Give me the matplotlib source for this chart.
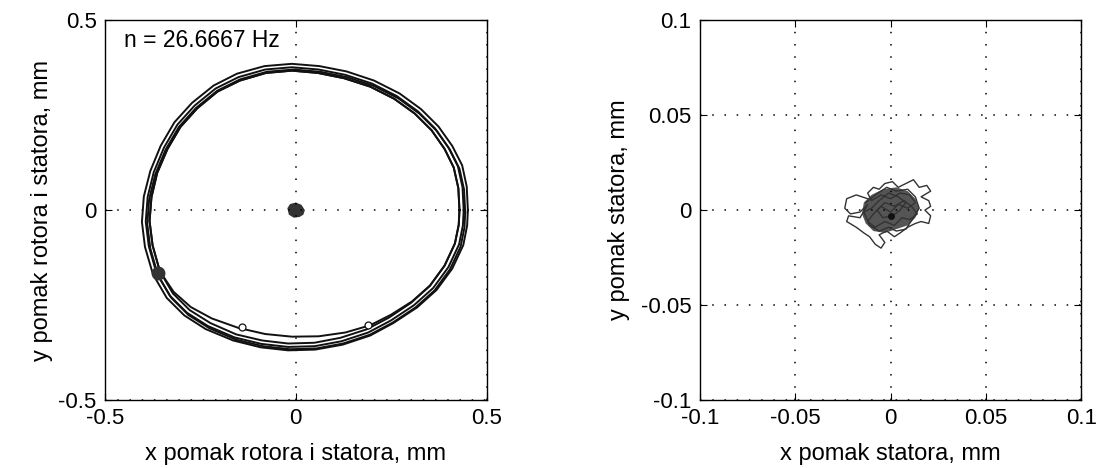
import matplotlib
matplotlib.use("Agg")
import matplotlib.pyplot as plt

plt.rcParams['font.family'] = ['Liberation Sans', 'DejaVu Sans']

# rotor + stator orbit, mm (several revolutions)
orbit_x = [
    [0.44, 0.437, 0.425, 0.40, 0.365, 0.32, 0.265, 0.20, 0.13, 0.06, -0.01, -0.08, -0.15, -0.21, -0.265, -0.31, -0.345, -0.372, -0.388,
     -0.393, -0.385, -0.365, -0.33, -0.285, -0.23, -0.16, -0.09, -0.02, 0.05, 0.12, 0.19, 0.25, 0.31, 0.36, 0.40, 0.428, 0.438, 0.44],
    [0.451, 0.448, 0.436, 0.41, 0.374, 0.328, 0.272, 0.205, 0.133, 0.062, -0.01, -0.082, -0.154, -0.215, -0.272, -0.318, -0.354, -0.381, -0.398,
     -0.403, -0.395, -0.374, -0.338, -0.292, -0.236, -0.164, -0.092, -0.02, 0.051, 0.123, 0.195, 0.256, 0.318, 0.369, 0.41, 0.439, 0.449, 0.451],
    [0.429, 0.426, 0.414, 0.39, 0.356, 0.312, 0.258, 0.195, 0.127, 0.058, -0.01, -0.078, -0.146, -0.205, -0.258, -0.302, -0.336, -0.363, -0.378,
     -0.383, -0.375, -0.356, -0.322, -0.278, -0.224, -0.156, -0.088, -0.02, 0.049, 0.117, 0.185, 0.244, 0.302, 0.351, 0.39, 0.417, 0.427, 0.429],
    [0.444, 0.441, 0.429, 0.404, 0.369, 0.324, 0.269, 0.204, 0.134, 0.064, -0.006, -0.076, -0.146, -0.206, -0.261, -0.306, -0.341, -0.368, -0.384,
     -0.389, -0.381, -0.361, -0.326, -0.281, -0.226, -0.156, -0.086, -0.016, 0.054, 0.124, 0.194, 0.254, 0.314, 0.364, 0.404, 0.432, 0.442, 0.444],
    [0.429, 0.426, 0.414, 0.39, 0.356, 0.312, 0.258, 0.195, 0.127, 0.058, -0.01, -0.078, -0.146, -0.205, -0.258, -0.302, -0.336, -0.363, -0.378,
     -0.383, -0.375, -0.356, -0.32, -0.275, -0.22, -0.15, -0.08, -0.01, 0.06, 0.13, 0.195, 0.25, 0.305, 0.352, 0.39, 0.417, 0.427, 0.429],
]
orbit_y = [
    [0.0, 0.06, 0.115, 0.165, 0.215, 0.26, 0.30, 0.333, 0.356, 0.37, 0.376, 0.37, 0.35, 0.32, 0.275, 0.225, 0.165, 0.10, 0.035,
     -0.03, -0.095, -0.165, -0.225, -0.27, -0.305, -0.335, -0.352, -0.36, -0.358, -0.345, -0.322, -0.29, -0.25, -0.205, -0.15, -0.09, -0.04, 0.0],
    [0.0, 0.062, 0.118, 0.169, 0.22, 0.266, 0.307, 0.341, 0.365, 0.379, 0.385, 0.379, 0.359, 0.328, 0.282, 0.231, 0.169, 0.103, 0.036,
     -0.031, -0.097, -0.169, -0.231, -0.277, -0.313, -0.343, -0.361, -0.369, -0.367, -0.354, -0.33, -0.297, -0.256, -0.21, -0.154, -0.092, -0.041, 0.0],
    [0.0, 0.058, 0.112, 0.161, 0.21, 0.254, 0.293, 0.325, 0.347, 0.361, 0.367, 0.361, 0.341, 0.312, 0.268, 0.219, 0.161, 0.098, 0.034,
     -0.029, -0.093, -0.161, -0.219, -0.263, -0.297, -0.327, -0.343, -0.351, -0.349, -0.336, -0.314, -0.283, -0.244, -0.2, -0.146, -0.088, -0.039, 0.0],
    [-0.006, 0.054, 0.109, 0.159, 0.209, 0.254, 0.294, 0.327, 0.35, 0.364, 0.37, 0.364, 0.344, 0.314, 0.269, 0.219, 0.159, 0.094, 0.029,
     -0.036, -0.101, -0.171, -0.231, -0.276, -0.311, -0.341, -0.358, -0.366, -0.364, -0.351, -0.328, -0.296, -0.256, -0.211, -0.156, -0.096, -0.046, -0.006],
    [0.0, 0.058, 0.112, 0.161, 0.21, 0.254, 0.293, 0.325, 0.347, 0.361, 0.367, 0.361, 0.341, 0.312, 0.268, 0.219, 0.161, 0.098, 0.034,
     -0.029, -0.093, -0.161, -0.215, -0.255, -0.285, -0.31, -0.326, -0.333, -0.332, -0.322, -0.303, -0.275, -0.24, -0.198, -0.146, -0.088, -0.039, 0.0],
]
# small blob in the middle of the left plot, mm
blob_x = [-0.022, -0.015, 0.0, 0.015, 0.024, 0.02, 0.01, -0.005, -0.018, -0.022]
blob_y = [0.005, 0.016, 0.02, 0.014, 0.0, -0.012, -0.018, -0.02, -0.012, 0.005]
mark_x = [-0.362]
mark_y = [-0.165]
kink_x = [-0.14, 0.19]
kink_y = [-0.308, -0.302]

# stator orbit, micrometres
stator_x_um = [-12, -18, -23, -24, -21, -16, -12, -16, -22, -23, -18, -14, -11, -8, -5, -3, -6, -2, 2, 5, 9, 13, 16, 20, 21, 18,
               21, 20, 16, 21, 19, 15, 12, 8, 4, 1, -3, -6, -9, -12, -10, -5, 0, 5, 10, 13, 9, 4, 0, -5, -9, -12, -8, -3, 2,
               6, 10, 14, 11, 7, 2, -3, -7, -4, 1, 5, 8, 4, -1, -6, -10, -14, -11, -6, -1, 3, 8, 12, 15, 13, 9, 3, -2, -8, -13]
stator_y_um = [6, 8, 6, 1, -2, -1, 3, -4, -3, -6, -9, -12, -14, -18, -20, -17, -13, -11, -14, -12, -9, -7, -6, -7, -3, 0,
               2, 5, 7, 10, 13, 12, 16, 14, 12, 15, 14, 11, 12, 9, 5, 8, 6, 9, 8, 4, 1, 3, -1, 2, -2, -6, -9, -6, -8,
               -4, -5, -2, 2, 5, 2, 4, 0, -4, -3, 0, 4, 7, 9, 5, 1, -1, -8, -11, -9, -11, -10, -4, 1, 7, 11, 10, 12, 8, 4]
core_x_um = [-14, -10, -4, 3, 9, 13, 15, 13, 9, 3, -3, -9, -13, -15, -14]
core_y_um = [4, 8, 11, 12, 10, 6, 1, -4, -8, -10, -12, -11, -7, -2, 4]

fig = plt.figure(figsize=(11.16, 4.68), dpi=100)
ax1 = fig.add_axes([0.094, 0.145, 0.342, 0.812])
ax2 = fig.add_axes([0.627, 0.145, 0.342, 0.812])

for xs, ys in zip(orbit_x, orbit_y):
    ax1.plot(xs, ys, color='#111111', lw=1.4)
ax1.fill(blob_x, blob_y, color='#333333', lw=0)
ax1.plot(mark_x, mark_y, 'o', color='#333333', ms=9)
ax1.plot(kink_x, kink_y, 'o', mfc='white', mec='#111111', ms=5, mew=0.9)
ax1.text(-0.45, 0.428, 'n = 26.6667 Hz', fontsize=16.5)
ax1.set_xlim(-0.5, 0.5)
ax1.set_ylim(-0.5, 0.5)
ax1.set_xticks([-0.5, 0, 0.5])
ax1.set_yticks([-0.5, 0, 0.5])
ax1.set_xticklabels(['-0.5', '0', '0.5'])
ax1.set_yticklabels(['-0.5', '0', '0.5'])
ax1.set_xlabel('x pomak rotora i statora, mm', fontsize=17, labelpad=10)
ax1.set_ylabel('y pomak rotora i statora, mm', fontsize=17, labelpad=4)

ax2.fill([v / 1000 for v in core_x_um], [v / 1000 for v in core_y_um], color='#555555', lw=0)
ax2.plot([v / 1000 for v in stator_x_um], [v / 1000 for v in stator_y_um], color='#333333', lw=1.0)
ax2.plot([0.0], [-0.003], 'o', color='#111111', ms=4)
ax2.set_xlim(-0.1, 0.1)
ax2.set_ylim(-0.1, 0.1)
ax2.set_xticks([-0.1, -0.05, 0, 0.05, 0.1])
ax2.set_yticks([-0.1, -0.05, 0, 0.05, 0.1])
ax2.set_xticklabels(['-0.1', '-0.05', '0', '0.05', '0.1'])
ax2.set_yticklabels(['-0.1', '-0.05', '0', '0.05', '0.1'])
ax2.set_xlabel('x pomak statora, mm', fontsize=17, labelpad=10)
ax2.set_ylabel('y pomak statora, mm', fontsize=17, labelpad=8)

for ax in (ax1, ax2):
    ax.grid(True, color='black', linestyle=(0, (1, 7)), lw=1.1)
    ax.tick_params(direction='in', length=5, top=True, right=True, labelsize=16, pad=6)
    for s in ax.spines.values():
        s.set_linewidth(1.0)

fig.savefig('out.png', dpi=100)
